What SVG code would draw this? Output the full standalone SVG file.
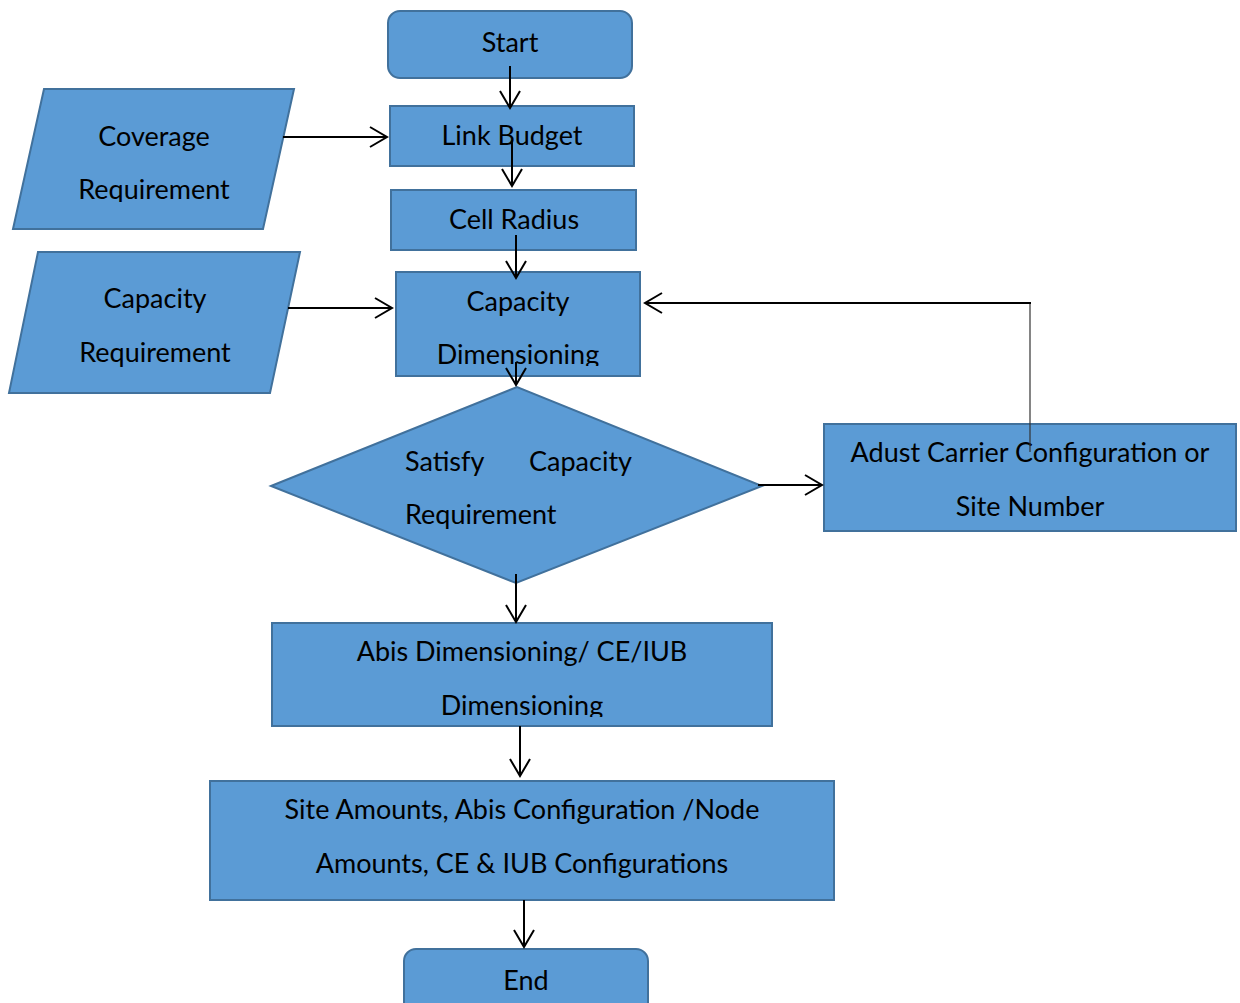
<svg xmlns="http://www.w3.org/2000/svg" width="1240" height="1003" viewBox="0 0 1240 1003">
  <style>
    .shape { fill: #5B9BD5; stroke: #41719C; stroke-width: 2; }
    .label { font-family: Lato, "Liberation Sans", sans-serif; font-size: 27px; fill: #000; }
    .mid { text-anchor: middle; }
    .wire { fill: none; stroke: #000; stroke-width: 2; }
    .thin { fill: none; stroke: #333; stroke-width: 1.2; }
  </style>
  <defs>
    <marker id="arrow" markerUnits="userSpaceOnUse" markerWidth="24" markerHeight="24" viewBox="0 0 24 24" refX="22" refY="12" orient="auto">
      <path d="M5,2 L22,12 L5,22" fill="none" stroke="#000" stroke-width="2"/>
    </marker>
    <!-- text areas that cut off the lower line of some labels -->
    <clipPath id="clipCoverage"><rect x="0" y="80" width="320" height="122"/></clipPath>
    <clipPath id="clipCapDim"><rect x="390" y="270" width="260" height="96"/></clipPath>
    <clipPath id="clipAbis"><rect x="270" y="620" width="510" height="97"/></clipPath>
  </defs>

  <rect width="1240" height="1003" fill="#fff"/>

  <g id="start">
    <rect class="shape" x="388" y="11" width="244" height="67" rx="12"/>
    <text class="label mid" x="510" y="52">Start</text>
  </g>

  <g id="coverage-requirement">
    <polygon class="shape" points="44,89 294,89 263,229 13,229"/>
    <g clip-path="url(#clipCoverage)">
      <text class="label mid" x="154" y="146">Coverage</text>
      <text class="label mid" x="154" y="199">Requirement</text>
    </g>
  </g>

  <g id="link-budget">
    <rect class="shape" x="390" y="106" width="244" height="60"/>
    <text class="label mid" x="512" y="145">Link Budget</text>
  </g>

  <g id="cell-radius">
    <rect class="shape" x="391" y="190" width="245" height="60"/>
    <text class="label mid" x="514" y="229">Cell Radius</text>
  </g>

  <g id="capacity-requirement">
    <polygon class="shape" points="38,252 300,252 270,393 9,393"/>
    <text class="label mid" x="155" y="308">Capacity</text>
    <text class="label mid" x="155" y="362">Requirement</text>
  </g>

  <g id="capacity-dimensioning">
    <rect class="shape" x="396" y="272" width="244" height="104"/>
    <g clip-path="url(#clipCapDim)">
      <text class="label mid" x="518" y="311">Capacity</text>
      <text class="label mid" x="518" y="364">Dimensioning</text>
    </g>
  </g>

  <g id="satisfy-capacity">
    <polygon class="shape" points="271,486 517,387 762,486 516,583"/>
    <text class="label" x="405" y="471">Satisfy</text>
    <text class="label" x="529" y="471">Capacity</text>
    <text class="label" x="405" y="524">Requirement</text>
  </g>

  <g id="adjust-carrier">
    <rect class="shape" x="824" y="424" width="412" height="107"/>
    <text class="label mid" x="1030" y="462">Adust Carrier Configuration or</text>
    <text class="label mid" x="1030" y="516">Site Number</text>
  </g>

  <g id="abis-dimensioning">
    <rect class="shape" x="272" y="623" width="500" height="103"/>
    <g clip-path="url(#clipAbis)">
      <text class="label mid" x="522" y="661">Abis Dimensioning/ CE/IUB</text>
      <text class="label mid" x="522" y="715">Dimensioning</text>
    </g>
  </g>

  <g id="site-amounts">
    <rect class="shape" x="210" y="781" width="624" height="119"/>
    <text class="label mid" x="522" y="819">Site Amounts, Abis Configuration /Node</text>
    <text class="label mid" x="522" y="873">Amounts, CE &amp; IUB Configurations</text>
  </g>

  <g id="end">
    <rect class="shape" x="404" y="949" width="244" height="70" rx="12"/>
    <text class="label mid" x="526" y="990">End</text>
  </g>

  <g id="connectors">
    <line class="wire" x1="510" y1="66" x2="510" y2="108" marker-end="url(#arrow)"/>
    <line class="wire" x1="512" y1="140" x2="512" y2="186" marker-end="url(#arrow)"/>
    <line class="wire" x1="516" y1="235" x2="516" y2="278" marker-end="url(#arrow)"/>
    <line class="wire" x1="516" y1="362" x2="516" y2="385" marker-end="url(#arrow)"/>
    <line class="wire" x1="283" y1="137" x2="387" y2="137" marker-end="url(#arrow)"/>
    <line class="wire" x1="288" y1="308" x2="392" y2="308" marker-end="url(#arrow)"/>
    <line class="wire" x1="758" y1="485" x2="822" y2="485" marker-end="url(#arrow)"/>
    <line class="wire" x1="516" y1="574" x2="516" y2="622" marker-end="url(#arrow)"/>
    <line class="wire" x1="520" y1="726" x2="520" y2="776" marker-end="url(#arrow)"/>
    <line class="wire" x1="524" y1="900" x2="524" y2="947" marker-end="url(#arrow)"/>
    <!-- feedback loop back to capacity dimensioning -->
    <line class="thin" x1="1030" y1="452" x2="1030" y2="303"/>
    <line class="wire" x1="1031" y1="303" x2="645" y2="303" marker-end="url(#arrow)"/>
  </g>
</svg>
